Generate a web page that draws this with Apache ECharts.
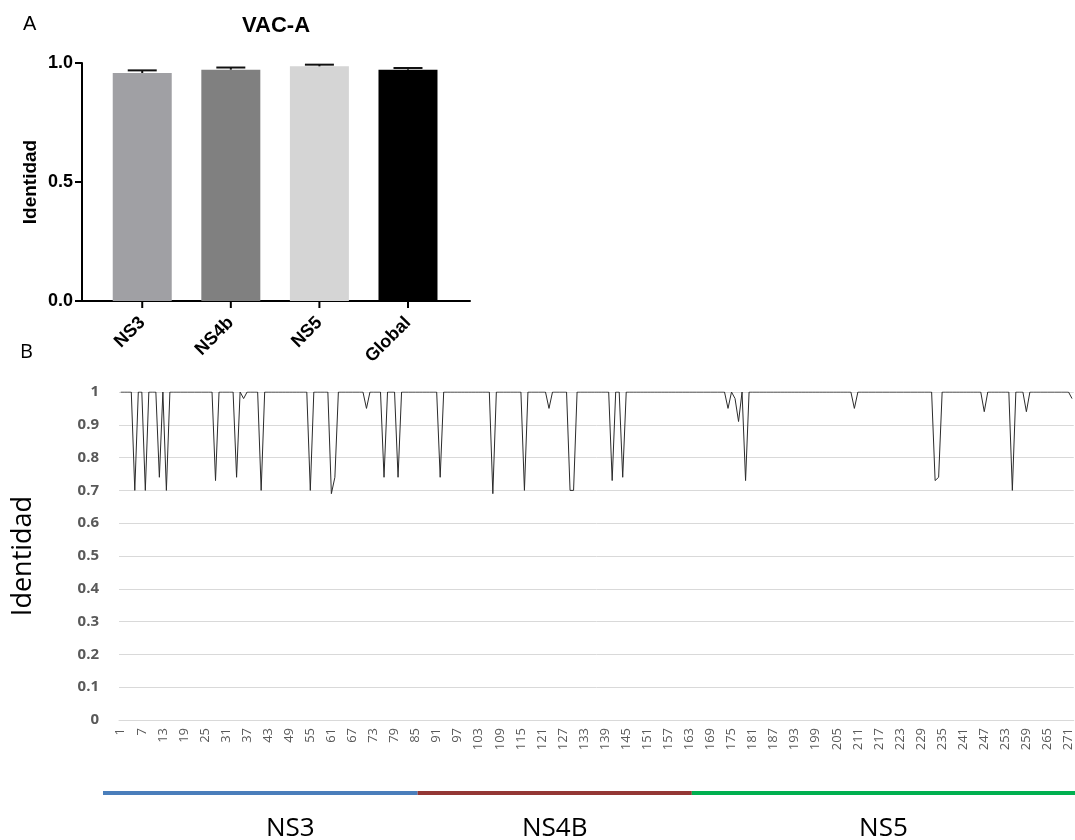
<!DOCTYPE html>
<html>
<head>
<meta charset="utf-8">
<script src="https://cdn.jsdelivr.net/npm/echarts@6/dist/echarts.min.js"></script>
<style>
  html, body { margin: 0; padding: 0; background: #ffffff; }
  #chart { width: 1075px; height: 840px; }
</style>
</head>
<body>
<div id="chart"></div>
<script>
// Panel A: mean identity per region, with upper error value
const regions = ['NS3', 'NS4b', 'NS5', 'Global'];
const meanIdentity = [0.958, 0.972, 0.986, 0.972];
const upperError = [0.969, 0.981, 0.993, 0.979];
const barColors = ['#a0a0a4', '#808080', '#d5d5d5', '#000000'];

// Panel B: identity at each position
const identity = [
  1, 1, 1, 1, 0.70, 1, 1, 0.70, 1, 1, 1, 0.74, 1, 0.70, 1, 1, 1, 1, 1, 1,
  1, 1, 1, 1, 1, 1, 1, 0.73, 1, 1, 1, 1, 1, 0.74, 1, 0.98, 1, 1, 1, 1,
  0.70, 1, 1, 1, 1, 1, 1, 1, 1, 1, 1, 1, 1, 1, 0.70, 1, 1, 1, 1, 1,
  0.69, 0.74, 1, 1, 1, 1, 1, 1, 1, 1, 0.95, 1, 1, 1, 1, 0.74, 1, 1, 1, 0.74,
  1, 1, 1, 1, 1, 1, 1, 1, 1, 1, 1, 0.74, 1, 1, 1, 1, 1, 1, 1, 1,
  1, 1, 1, 1, 1, 1, 0.69, 1, 1, 1, 1, 1, 1, 1, 1, 0.70, 1, 1, 1, 1,
  1, 1, 0.95, 1, 1, 1, 1, 1, 0.70, 0.70, 1, 1, 1, 1, 1, 1, 1, 1, 1, 1,
  0.73, 1, 1, 0.74, 1, 1, 1, 1, 1, 1, 1, 1, 1, 1, 1, 1, 1, 1, 1, 1,
  1, 1, 1, 1, 1, 1, 1, 1, 1, 1, 1, 1, 1, 0.95, 1, 0.98, 0.91, 1, 0.73, 1,
  1, 1, 1, 1, 1, 1, 1, 1, 1, 1, 1, 1, 1, 1, 1, 1, 1, 1, 1, 1,
  1, 1, 1, 1, 1, 1, 1, 1, 1, 0.95, 1, 1, 1, 1, 1, 1, 1, 1, 1, 1,
  1, 1, 1, 1, 1, 1, 1, 1, 1, 1, 1, 1, 0.73, 0.74, 1, 1, 1, 1, 1, 1,
  1, 1, 1, 1, 1, 1, 0.94, 1, 1, 1, 1, 1, 1, 1, 0.70, 1, 1, 1, 0.94, 1,
  1, 1, 1, 1, 1, 1, 1, 1, 1, 1, 1, 0.98
];
const positions = identity.map((_, i) => String(i + 1));

// Protein segments drawn under panel B, in position units
const segmentNames = ['NS3', 'NS4B', 'NS5'];
const segmentStart = [-4.5, 85, 163];
const segmentEnd = [85, 163, 272];
const segmentColors = ['#4a7ebb', '#943735', '#00b050'];

const chart = echarts.init(document.getElementById('chart'), null, { renderer: 'canvas' });

const prismFont = 'Liberation Sans, Arial, sans-serif';
const officeFont = 'Open Sans, sans-serif';
const labelShift = { NS3: 30, NS4B: 0, NS5: 0 };
const barTicks = regions.map((r, i) => i);

const option = {
  animation: false,
  backgroundColor: '#ffffff',
  graphic: [
    { type: 'text', left: 23, top: 14, style: { text: 'A', font: '20px ' + prismFont, fill: '#000' } },
    { type: 'text', x: 276, y: 26, style: { text: 'VAC-A', font: 'bold 22px ' + prismFont, fill: '#000', textAlign: 'center', textVerticalAlign: 'middle' } },
    { type: 'text', left: 20, top: 342, style: { text: 'B', font: '20px ' + officeFont, fill: '#000' } }
  ],
  grid: [
    { left: 82, right: 605, top: 63, bottom: 539 },
    { left: 119, right: -3, top: 392, bottom: 120 },
    { left: 103, right: -3, top: 780, height: 26 }
  ],
  xAxis: [
    {
      gridIndex: 0, type: 'value', min: -0.68, max: 3.7,
      axisLine: { show: true, onZero: false, lineStyle: { color: '#000', width: 2 } },
      axisTick: { show: false },
      axisLabel: {
        show: true, customValues: barTicks, formatter: v => regions[Math.round(v)], rotate: 45, margin: 19,
        fontFamily: prismFont, fontWeight: 'bold', fontSize: 18, color: '#000'
      },
      splitLine: { show: false }
    },
    {
      gridIndex: 1, type: 'category', data: positions, boundaryGap: true,
      axisLine: { show: true, lineStyle: { color: '#d9d9d9', width: 1 } },
      axisTick: { show: false },
      axisLabel: { interval: 5, rotate: 90, margin: 8, fontFamily: officeFont, fontSize: 13, color: '#595959' },
      splitLine: { show: false }
    },
    { gridIndex: 2, type: 'value', min: -4.5, max: 272, show: false }
  ],
  yAxis: [
    {
      gridIndex: 0, type: 'value', min: 0, max: 1, interval: 0.5,
      axisLine: { show: true, onZero: false, lineStyle: { color: '#000', width: 2 } },
      axisTick: { show: true, inside: false, length: 7, lineStyle: { color: '#000', width: 2 } },
      axisLabel: { formatter: v => v.toFixed(1), margin: 9, fontFamily: prismFont, fontWeight: 'bold', fontSize: 18, color: '#000' },
      splitLine: { show: false },
      name: 'Identidad', nameLocation: 'middle', nameGap: 42,
      nameTextStyle: { fontFamily: prismFont, fontWeight: 'bold', fontSize: 19, color: '#000' }
    },
    {
      gridIndex: 1, type: 'value', min: 0, max: 1, interval: 0.1,
      axisLine: { show: false }, axisTick: { show: false },
      axisLabel: { formatter: v => String(Math.round(v * 10) / 10), margin: 20, fontFamily: officeFont, fontWeight: 'bold', fontSize: 15, color: '#595959' },
      splitLine: { show: true, lineStyle: { color: '#d9d9d9', width: 1 } },
      name: 'Identidad', nameLocation: 'middle', nameGap: 82,
      nameTextStyle: { fontFamily: officeFont, fontSize: 27, color: '#000' }
    },
    { gridIndex: 2, type: 'value', min: 0, max: 1, show: false }
  ],
  series: [
    {
      type: 'bar', xAxisIndex: 0, yAxisIndex: 0, barWidth: 59,
      data: regions.map((r, i) => ({ value: [i, meanIdentity[i]], itemStyle: { color: barColors[i] } }))
    },
    {
      // error bars above each bar, plus the category tick under the axis
      type: 'custom', xAxisIndex: 0, yAxisIndex: 0, z: 5,
      data: regions.map((r, i) => [i, meanIdentity[i], upperError[i]]),
      encode: { x: 0, y: [1, 2] },
      renderItem: (params, api) => {
        const base = api.coord([api.value(0), api.value(1)]);
        const top = api.coord([api.value(0), api.value(2)]);
        const zero = api.coord([api.value(0), 0]);
        const half = 14.5;
        const style = { stroke: '#111', lineWidth: 2 };
        return {
          type: 'group',
          children: [
            { type: 'line', shape: { x1: base[0], y1: base[1], x2: top[0], y2: top[1] }, style },
            { type: 'line', shape: { x1: top[0] - half, y1: top[1], x2: top[0] + half, y2: top[1] }, style },
            { type: 'line', shape: { x1: zero[0], y1: zero[1], x2: zero[0], y2: zero[1] + 7 }, style: { stroke: '#000', lineWidth: 2 } }
          ]
        };
      }
    },
    {
      type: 'line', xAxisIndex: 1, yAxisIndex: 1, data: identity,
      symbol: 'none', lineStyle: { color: '#2b2b2b', width: 1 }
    },
    {
      type: 'custom', xAxisIndex: 2, yAxisIndex: 2,
      data: segmentNames.map((n, i) => [segmentStart[i], segmentEnd[i], i]),
      renderItem: (params, api) => {
        const p0 = api.coord([api.value(0), 0.5]);
        const p1 = api.coord([api.value(1), 0.5]);
        const k = api.value(2);
        const name = segmentNames[k];
        return {
          type: 'group',
          children: [
            { type: 'rect', shape: { x: p0[0], y: p0[1] - 2, width: p1[0] - p0[0], height: 4 }, style: { fill: segmentColors[k] } },
            {
              type: 'text', x: (p0[0] + p1[0]) / 2 + labelShift[name], y: p0[1] + 36,
              style: { text: name, font: '26px ' + officeFont, fill: '#000', align: 'center', verticalAlign: 'middle' }
            }
          ]
        };
      }
    }
  ]
};

chart.setOption(option);
</script>
</body>
</html>
